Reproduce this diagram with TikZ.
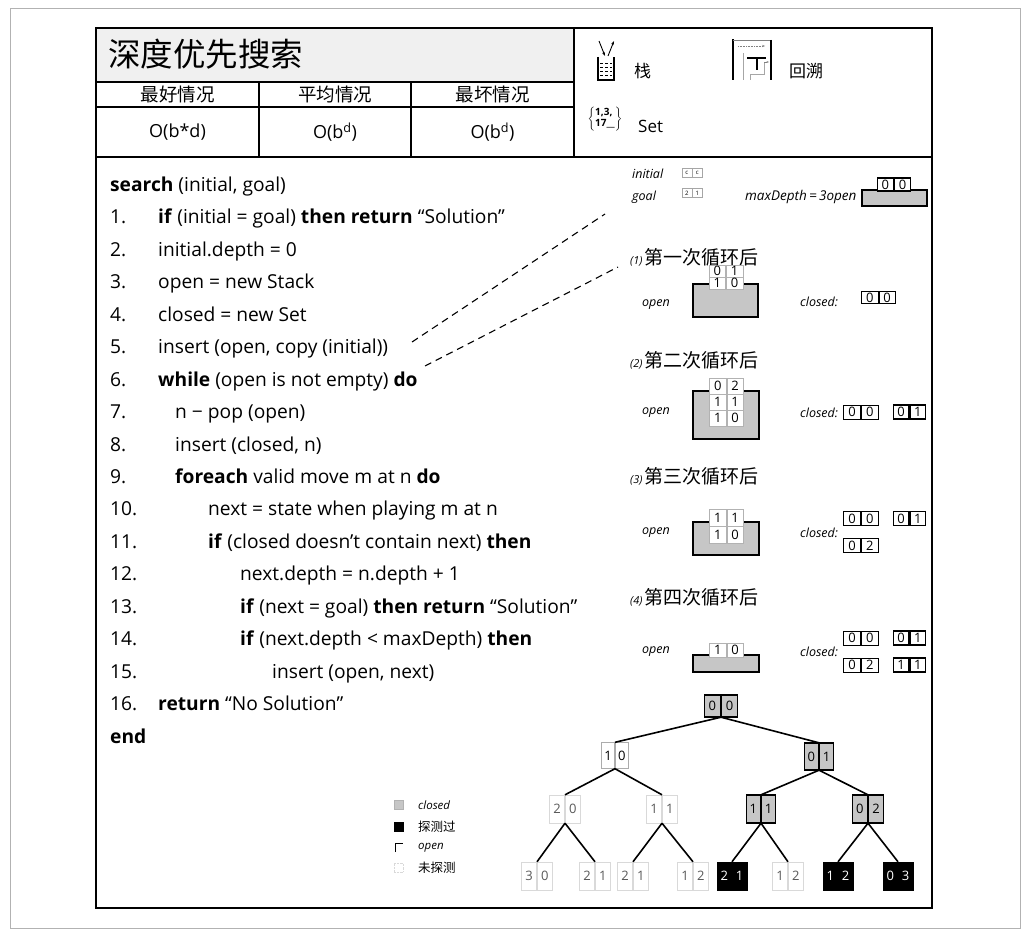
\documentclass[tikz,border=0pt]{standalone}
\usepackage{fontspec}
\setmainfont{Open Sans}
\newfontfamily\cjk{Noto Sans CJK SC}
\usetikzlibrary{arrows.meta}
\newcommand{\cp}[8]{%
  \node[inner sep=0pt, minimum width=2*#7, minimum height=#8] (#1) at (#2,#3) {};
  \node[cellbox,#6,minimum width=#7,minimum height=#8,anchor=east] (#1a) at (#1.center) {#4};
  \node[cellbox,#6,minimum width=#7,minimum height=#8,anchor=west] (#1b) at (#1.center) {#5};
}
\begin{document}
\begin{tikzpicture}[x=1pt,y=-1pt,
  cellbox/.style={inner sep=0pt, font=\fontsize{13}{13}\selectfont},
  closedc/.style={fill=gray!45, draw=black, line width=1.2pt},
  blackc/.style={fill=black, draw=black, text=white},
  openc/.style={fill=white, draw=gray!65, line width=0.7pt},
  unexpc/.style={draw=gray!30, line width=0.7pt, text=gray!70!black},
  stackc/.style={fill=white, draw=gray!60, line width=0.6pt},
  clthin/.style={fill=white, draw=black, line width=0.6pt},
  clthick/.style={fill=white, draw=black, line width=1.3pt},
  tinyc/.style={draw=gray!70, line width=0.5pt, font=\fontsize{6}{6}\selectfont},
  stackbox/.style={fill=gray!45, draw=black, line width=1.4pt, inner sep=0pt},
  code/.style={anchor=base west, inner sep=0pt, font=\fontsize{19.2}{19.2}\selectfont},
  lbl/.style={anchor=west, inner sep=0pt, font=\fontsize{12.5}{12.5}\selectfont\itshape},
  head/.style={anchor=west, inner sep=0pt},
  edge/.style={line width=1.6pt},
  dashconn/.style={dashed, dash pattern=on 7pt off 5pt, line width=1.1pt}
]
\useasboundingbox (0,0) rectangle (1030,936);
\fill[white] (0,0) rectangle (1030,936);
% outer frame
\draw[gray!60, line width=0.8pt] (10,8) rectangle (1020,928);
% header
\fill[gray!12] (96,28) rectangle (574,82);
\draw[line width=1.5pt] (96,28) rectangle (932,908);
\draw[line width=1.2pt] (96,82) -- (574,82);
\draw[line width=1.2pt] (96,107) -- (574,107);
\draw[line width=1.5pt] (96,157) -- (932,157);
\draw[line width=1.2pt] (259,82) -- (259,157);
\draw[line width=1.2pt] (411,82) -- (411,157);
\draw[line width=1.5pt] (574,28) -- (574,157);
\node[head] (title) at (108,54) {\cjk\fontsize{32.5}{32.5}\selectfont 深度优先搜索};
\node (h1) at (177.5,94.5) {\cjk\fontsize{18.5}{18.5}\selectfont 最好情况};
\node (h2) at (335,94.5) {\cjk\fontsize{18.5}{18.5}\selectfont 平均情况};
\node (h3) at (492.5,94.5) {\cjk\fontsize{18.5}{18.5}\selectfont 最坏情况};
\node (o1) at (177.5,132) {\fontsize{18}{18}\selectfont O(b*d)};
\node (o2) at (335,132) {\fontsize{18}{18}\selectfont O(b\textsuperscript{d})};
\node (o3) at (492.5,132) {\fontsize{18}{18}\selectfont O(b\textsuperscript{d})};
% legend icons
\draw[line width=1.4pt] (598,57) -- (598,80) -- (614,80) -- (614,57);
\foreach \yy in {63,67,71,75} \draw[densely dashed, line width=0.5pt] (600,\yy) -- (612,\yy);
\draw[-{Stealth[length=4pt]}, line width=0.9pt] (599,41) -- (605,56);
\draw[-{Stealth[length=4pt]}, line width=0.9pt] (608,56) -- (614,41);
\node[head] (stk) at (634,71) {\cjk\fontsize{17}{17}\selectfont 栈};
\draw[line width=1.6pt] (733,80) -- (733,39);
\draw[line width=0.7pt, gray] (733,40) -- (771,40);
\draw[line width=1.6pt] (771,40) -- (771,80);
\draw[line width=0.8pt, gray!70] (743,80) -- (743,53);
\draw[line width=1.2pt] (747,58) -- (766,58);
\draw[line width=1.2pt] (757,58) -- (757,70);
\draw[line width=0.8pt, gray!70] (750,80) -- (750,74) -- (764,74) -- (764,62);
\draw[densely dotted, -{Stealth[length=3pt]}, gray, line width=0.6pt] (738,46) -- (765,46);
\draw[-{Stealth[length=2.5pt]}, gray, line width=0.5pt] (764,62) -- (769,62);
\node[head] (bt) at (789,71) {\cjk\fontsize{17}{17}\selectfont 回溯};
\node[inner sep=0pt] (setic) at (605,119) {\fontsize{10}{10}\selectfont$\left\{\begin{tabular}{@{}l@{}}\bfseries 1,3,\\[1pt]\bfseries 17\_\_\end{tabular}\right\}$};
\node[head] (setl) at (638,126) {\fontsize{17}{17}\selectfont Set};
% code
\node[code] (c0) at (110,191.5) {\textbf{search} (initial, goal)};
\node[code] (n1) at (110,223.8) {1.};
\node[code] (c1) at (158,223.8) {\textbf{if} (initial = goal) \textbf{then return} “Solution”};
\node[code] (n2) at (110,256.3) {2.};
\node[code] (c2) at (158,256.3) {initial.depth = 0};
\node[code] (n3) at (110,288.7) {3.};
\node[code] (c3) at (158,288.7) {open = new Stack};
\node[code] (n4) at (110,321.2) {4.};
\node[code] (c4) at (158,321.2) {closed = new Set};
\node[code] (n5) at (110,353.6) {5.};
\node[code] (c5) at (158,353.6) {insert (open, copy (initial))};
\node[code] (n6) at (110,386.1) {6.};
\node[code] (c6) at (158,386.1) {\textbf{while} (open is not empty) \textbf{do}};
\node[code] (n7) at (110,418.5) {7.};
\node[code] (c7) at (175,418.5) {n − pop (open)};
\node[code] (n8) at (110,451) {8.};
\node[code] (c8) at (175,451) {insert (closed, n)};
\node[code] (n9) at (110,483.4) {9.};
\node[code] (c9) at (175,483.4) {\textbf{foreach} valid move m at n \textbf{do}};
\node[code] (n10) at (110,515.9) {10.};
\node[code] (c10) at (208,515.9) {next = state when playing m at n};
\node[code] (n11) at (110,548.3) {11.};
\node[code] (c11) at (208,548.3) {\textbf{if} (closed doesn’t contain next) \textbf{then}};
\node[code] (n12) at (110,580.8) {12.};
\node[code] (c12) at (240,580.8) {next.depth = n.depth + 1};
\node[code] (n13) at (110,613.2) {13.};
\node[code] (c13) at (240,613.2) {\textbf{if} (next = goal) \textbf{then return} “Solution”};
\node[code] (n14) at (110,645.7) {14.};
\node[code] (c14) at (240,645.7) {\textbf{if} (next.depth < maxDepth) \textbf{then}};
\node[code] (n15) at (110,678.1) {15.};
\node[code] (c15) at (272,678.1) {insert (open, next)};
\node[code] (n16) at (110,710.6) {16.};
\node[code] (c16) at (158,710.6) {\textbf{return} “No Solution”};
\node[code] (cend) at (110,743) {\textbf{end}};
% dashed connectors
\coordinate (d1s) at (412,342);
\coordinate (d1e) at (605,214);
\coordinate (d2s) at (425,366);
\coordinate (d2e) at (618,267);
\draw[dashconn] (d1s) -- (d1e);
\draw[dashconn] (d2s) -- (d2e);
% initial state
\node[lbl] (linit) at (632,174) {initial};
\node[lbl] (lgoal) at (632,197) {goal};
\cp{ini}{692}{173}{c}{c}{tinyc}{10pt}{9pt}
\cp{gol}{692}{193}{2}{1}{tinyc}{10pt}{9pt}
\node[lbl, font=\fontsize{13.5}{13.5}\selectfont\itshape] (lmax) at (745,197) {maxDepth\,=\,3open};
\node[stackbox, minimum width=65pt, minimum height=16pt] (st0) at (894.5,198) {};
\cp{s0}{894}{184.5}{0}{0}{clthick}{16pt}{13pt}
% step 1
\node[head] (hd1) at (630,257) {{\fontsize{11}{11}\selectfont\itshape (1)}\,{\cjk\fontsize{19}{19}\selectfont 第一次循环后}};
\node[lbl] (op1) at (642,305) {open};
\node[stackbox, minimum width=65pt, minimum height=33pt] (st1) at (725.5,300.5) {};
\cp{s1a}{726}{271}{0}{1}{stackc}{16.5pt}{12pt}
\cp{s1b}{726}{283}{1}{0}{stackc}{16.5pt}{12pt}
\node[lbl] (cl1) at (800,302) {closed:};
\cp{k1a}{878.5}{297.5}{0}{0}{clthin}{16.5pt}{12pt}
% step 2
\node[head] (hd2) at (630,360) {{\fontsize{11}{11}\selectfont\itshape (2)}\,{\cjk\fontsize{19}{19}\selectfont 第二次循环后}};
\node[lbl] (op2) at (642,413) {open};
\node[stackbox, minimum width=66pt, minimum height=48pt] (st2) at (726,415) {};
\cp{s2a}{726.5}{386}{0}{2}{stackc}{16.5pt}{16pt}
\cp{s2b}{726.5}{402}{1}{1}{stackc}{16.5pt}{16pt}
\cp{s2c}{726.5}{418}{1}{0}{stackc}{16.5pt}{16pt}
\node[lbl] (cl2) at (800,413) {closed:};
\cp{k2a}{861}{412}{0}{0}{clthin}{17pt}{14pt}
\cp{k2b}{909.5}{412}{0}{1}{clthick}{15.5pt}{14pt}
% step 3
\node[head] (hd3) at (630,476) {{\fontsize{11}{11}\selectfont\itshape (3)}\,{\cjk\fontsize{19}{19}\selectfont 第三次循环后}};
\node[lbl] (op3) at (642,533) {open};
\node[stackbox, minimum width=66pt, minimum height=33pt] (st3) at (726,538.5) {};
\cp{s3a}{726.5}{517.5}{1}{1}{stackc}{16.5pt}{17pt}
\cp{s3b}{726.5}{534.5}{1}{0}{stackc}{16.5pt}{17pt}
\node[lbl] (cl3) at (800,533) {closed:};
\cp{k3a}{861}{518.5}{0}{0}{clthin}{17pt}{14pt}
\cp{k3b}{909.5}{518.5}{0}{1}{clthick}{15.5pt}{14pt}
\cp{k3c}{861}{545.5}{0}{2}{clthin}{17pt}{14pt}
% step 4
\node[head] (hd4) at (630,597) {{\fontsize{11}{11}\selectfont\itshape (4)}\,{\cjk\fontsize{19}{19}\selectfont 第四次循环后}};
\node[lbl] (op4) at (642,652) {open};
\node[stackbox, minimum width=66pt, minimum height=17pt] (st4) at (726,663.5) {};
\cp{s4a}{726.5}{650}{1}{0}{stackc}{16.5pt}{14pt}
\node[lbl] (cl4) at (800,652) {closed:};
\cp{k4a}{861}{638}{0}{0}{clthin}{17pt}{14pt}
\cp{k4b}{909.5}{638}{0}{1}{clthick}{15.5pt}{14pt}
\cp{k4c}{861}{665}{0}{2}{clthin}{17pt}{14pt}
\cp{k4d}{909.5}{665}{1}{1}{clthick}{15.5pt}{14pt}
% tree nodes
\cp{r}{721}{706}{0}{0}{closedc}{16pt}{22pt}
\cp{a}{615}{755.5}{1}{0}{openc}{13pt}{26pt}
\cp{b}{819}{756.5}{0}{1}{closedc}{14pt}{27pt}
\cp{aa}{565}{809}{2}{0}{unexpc}{15pt}{28pt}
\cp{ab}{662}{809}{1}{1}{unexpc}{15pt}{28pt}
\cp{ba}{761}{809}{1}{1}{closedc}{14pt}{28pt}
\cp{bb}{868}{809}{0}{2}{closedc}{15pt}{28pt}
\cp{aaa}{537}{876}{3}{0}{unexpc}{15pt}{28pt}
\cp{aab}{595}{876}{2}{1}{unexpc}{15pt}{28pt}
\cp{aba}{633}{876}{2}{1}{unexpc}{15pt}{28pt}
\cp{abb}{693}{876}{1}{2}{unexpc}{15pt}{28pt}
\cp{baa}{732}{876}{2}{1}{blackc}{15pt}{28pt}
\cp{bab}{788}{876}{1}{2}{unexpc}{15pt}{28pt}
\cp{bba}{838}{876}{1}{2}{blackc}{15pt}{28pt}
\cp{bbb}{898}{876}{0}{3}{blackc}{15pt}{28pt}
\draw[edge] (r.south) -- (a.north);
\draw[edge] (r.south) -- (b.north);
\draw[edge] (a.south) -- (aa.north);
\draw[edge] (a.south) -- (ab.north);
\draw[edge] (b.south) -- (ba.north);
\draw[edge] (b.south) -- (bb.north);
\draw[edge] (aa.south) -- (aaa.north);
\draw[edge] (aa.south) -- (aab.north);
\draw[edge] (ab.south) -- (aba.north);
\draw[edge] (ab.south) -- (abb.north);
\draw[edge] (ba.south) -- (baa.north);
\draw[edge] (ba.south) -- (bab.north);
\draw[edge] (bb.south) -- (bba.north);
\draw[edge] (bb.south) -- (bbb.north);
% legend
\node[fill=gray!45, draw=gray!60, line width=0.5pt, minimum size=9pt, inner sep=0pt] (lg1) at (398.5,804.5) {};
\node[lbl, font=\fontsize{11.5}{11.5}\selectfont\itshape] (lt1) at (418,805) {closed};
\node[fill=black, minimum size=10pt, inner sep=0pt] (lg2) at (398.5,827) {};
\node[head] (lt2) at (418,827) {\cjk\fontsize{12.5}{12.5}\selectfont 探测过};
\coordinate (lg3) at (395,852);
\draw[line width=0.7pt] (lg3) -- ++(0,-9) -- ++(8,0);
\node[lbl, font=\fontsize{11.5}{11.5}\selectfont\itshape] (lt3) at (418,848) {open};
\node[draw=gray!30, densely dotted, minimum size=9pt, inner sep=0pt] (lg4) at (398.5,867.5) {};
\node[head] (lt4) at (418,868) {\cjk\fontsize{12.5}{12.5}\selectfont 未探测};
\end{tikzpicture}
\end{document}
